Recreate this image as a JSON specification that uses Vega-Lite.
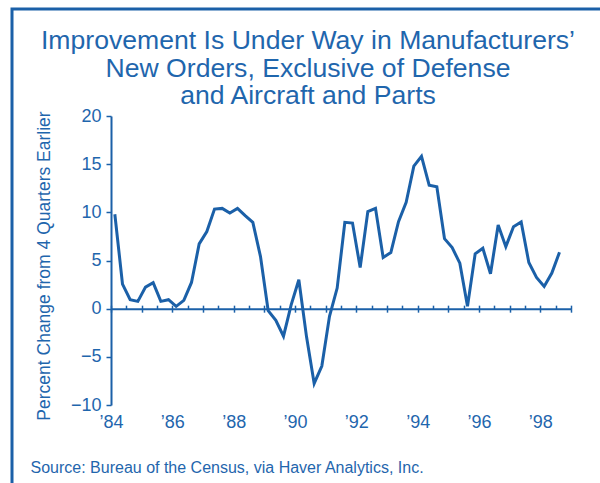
{
  "$schema": "https://vega.github.io/schema/vega-lite/v6.json",
  "width": 592,
  "height": 478,
  "autosize": {"type": "none"},
  "padding": {"left": 12, "top": 9, "right": -4, "bottom": -4},
  "background": "white",
  "title": {
    "text": ["Improvement Is Under Way in Manufacturers’", "New Orders, Exclusive of Defense", "and Aircraft and Parts"],
    "anchor": "middle",
    "frame": "group",
    "baseline": "top",
    "offset": -22,
    "dy": 79,
    "fontSize": 26.6,
    "lineHeight": 27.5,
    "font": "Liberation Sans",
    "fontWeight": "normal",
    "color": "#1f66ad"
  },
  "config": {
    "view": {"stroke": "#1b60a8", "strokeWidth": 3, "fill": "white"},
    "axis": {
      "grid": false,
      "labelFont": "Liberation Sans",
      "titleFont": "Liberation Sans",
      "labelColor": "#1f66ad",
      "titleColor": "#1f66ad",
      "domainColor": "#1b60a8",
      "tickColor": "#1b60a8",
      "titleFontWeight": "normal"
    }
  },
  "data": {
    "values": [
      {"t": 1984.125, "v": 9.8}, {"t": 1984.375, "v": 2.55}, {"t": 1984.625, "v": 0.93}, {"t": 1984.875, "v": 0.76},
      {"t": 1985.125, "v": 2.24}, {"t": 1985.375, "v": 2.69}, {"t": 1985.625, "v": 0.76}, {"t": 1985.875, "v": 0.93},
      {"t": 1986.125, "v": 0.24}, {"t": 1986.375, "v": 0.86}, {"t": 1986.625, "v": 2.72}, {"t": 1986.875, "v": 6.72},
      {"t": 1987.125, "v": 8.0}, {"t": 1987.375, "v": 10.34}, {"t": 1987.625, "v": 10.41}, {"t": 1987.875, "v": 9.93},
      {"t": 1988.125, "v": 10.41}, {"t": 1988.375, "v": 9.65}, {"t": 1988.625, "v": 8.96}, {"t": 1988.875, "v": 5.41},
      {"t": 1989.125, "v": -0.2}, {"t": 1989.375, "v": -1.2}, {"t": 1989.625, "v": -2.86}, {"t": 1989.875, "v": 0.4},
      {"t": 1990.125, "v": 3.0}, {"t": 1990.375, "v": -2.9}, {"t": 1990.625, "v": -7.76}, {"t": 1990.875, "v": -5.96},
      {"t": 1991.125, "v": -0.8}, {"t": 1991.375, "v": 2.14}, {"t": 1991.625, "v": 8.96}, {"t": 1991.875, "v": 8.89},
      {"t": 1992.125, "v": 4.27}, {"t": 1992.375, "v": 10.07}, {"t": 1992.625, "v": 10.41}, {"t": 1992.875, "v": 5.31},
      {"t": 1993.125, "v": 5.83}, {"t": 1993.375, "v": 9.03}, {"t": 1993.625, "v": 11.03}, {"t": 1993.875, "v": 14.79},
      {"t": 1994.125, "v": 15.82}, {"t": 1994.375, "v": 12.82}, {"t": 1994.625, "v": 12.65}, {"t": 1994.875, "v": 7.27},
      {"t": 1995.125, "v": 6.34}, {"t": 1995.375, "v": 4.72}, {"t": 1995.625, "v": 0.24}, {"t": 1995.875, "v": 5.69},
      {"t": 1996.125, "v": 6.27}, {"t": 1996.375, "v": 3.62}, {"t": 1996.625, "v": 8.69}, {"t": 1996.875, "v": 6.44},
      {"t": 1997.125, "v": 8.51}, {"t": 1997.375, "v": 9.0}, {"t": 1997.625, "v": 4.79}, {"t": 1997.875, "v": 3.24},
      {"t": 1998.125, "v": 2.31}, {"t": 1998.375, "v": 3.69}, {"t": 1998.625, "v": 5.86}
    ]
  },
  "layer": [
    {
      "mark": {"type": "line", "color": "#1b60a8", "strokeWidth": 3, "strokeJoin": "miter"},
      "encoding": {
        "x": {
          "field": "t",
          "type": "quantitative",
          "scale": {"domain": [1984, 1999], "range": [99, 559], "nice": false, "zero": false},
          "axis": {
            "orient": "bottom",
            "offset": -178.33,
            "values": [1984, 1985, 1986, 1987, 1988, 1989, 1990, 1991, 1992, 1993, 1994, 1995, 1996, 1997, 1998, 1999],
            "labelExpr": "datum.value % 2 == 0 ? '’' + substring(toString(datum.value), 2, 4) : ''",
            "labelFlush": false,
            "labelOverlap": false,
            "labelFontSize": 18,
            "labelPadding": 101,
            "tickSize": 3.5,
            "tickWidth": 1.5,
            "domainWidth": 2,
            "title": "Source: Bureau of the Census, via Haver Analytics, Inc.",
            "titleX": 18,
            "titleY": 163.6,
            "titleAlign": "left",
            "titleAnchor": "start",
            "titleBaseline": "alphabetic",
            "titleFontSize": 16
          }
        },
        "y": {
          "field": "v",
          "type": "quantitative",
          "scale": {"domain": [-10, 20], "range": [396, 107], "nice": false, "zero": false},
          "axis": {
            "orient": "left",
            "offset": -99,
            "values": [-10, -5, 0, 5, 10, 15, 20],
            "labelFontSize": 18,
            "labelPadding": 5,
            "tickSize": 5,
            "tickWidth": 1.5,
            "domainWidth": 2,
            "title": "Percent Change from 4 Quarters Earlier",
            "titleFontSize": 17.5,
            "titleX": -62,
            "titleY": 256.5,
            "titleAngle": 270,
            "titleAlign": "center",
            "titleBaseline": "alphabetic"
          }
        }
      }
    },
    {
      "mark": {"type": "line", "strokeOpacity": 0},
      "encoding": {
        "x": {
          "field": "t",
          "type": "quantitative",
          "axis": {
            "orient": "top",
            "offset": -299.67,
            "values": [1984, 1984.5, 1985, 1985.5, 1986, 1986.5, 1987, 1987.5, 1988, 1988.5, 1989, 1989.5, 1990, 1990.5, 1991, 1991.5, 1992, 1992.5, 1993, 1993.5, 1994, 1994.5, 1995, 1995.5, 1996, 1996.5, 1997, 1997.5, 1998, 1998.5, 1999],
            "labels": false,
            "domain": false,
            "tickSize": 3.5,
            "tickWidth": 1.5,
            "title": null
          }
        },
        "y": {"field": "v", "type": "quantitative"}
      }
    }
  ]
}
